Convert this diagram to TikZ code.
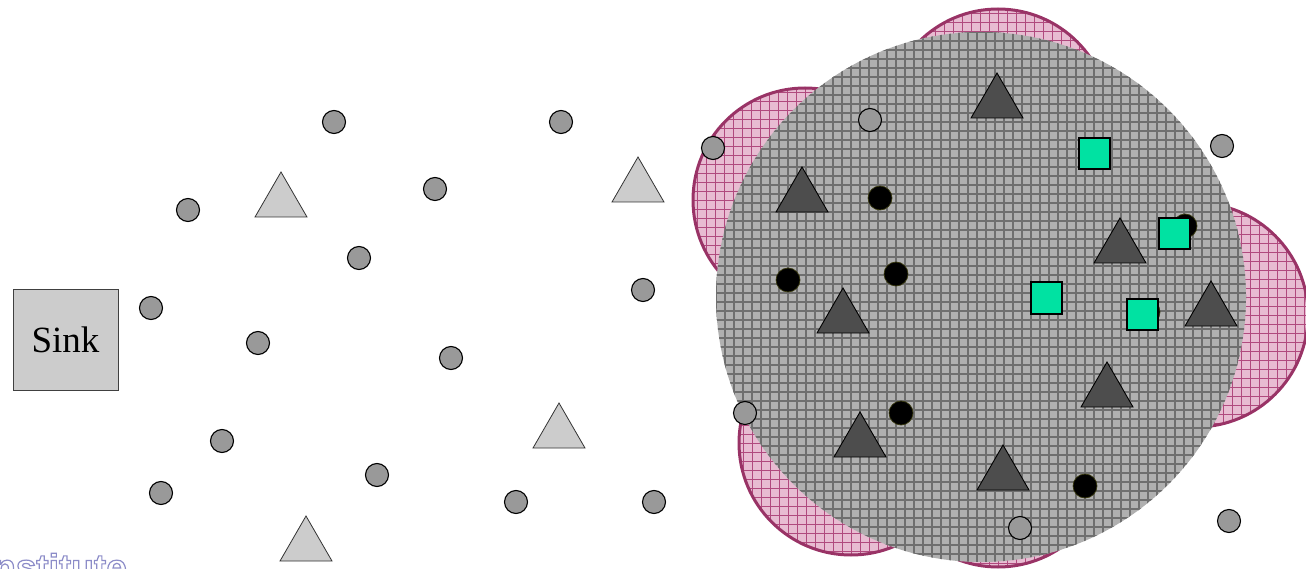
\documentclass[tikz,border=0pt]{standalone}
\usepackage{fontspec}
\setmainfont{Liberation Serif}
\newfontfamily\wmfont{Liberation Sans}
\usetikzlibrary{shapes.geometric}
\definecolor{pinkfill}{HTML}{E8BCD2}
\definecolor{pinkline}{HTML}{B04A7E}
\definecolor{pinkedge}{HTML}{993366}
\definecolor{cellgray}{HTML}{B0B0B0}
\definecolor{gridgray}{HTML}{6F6F6F}
\definecolor{nodegray}{HTML}{999999}
\definecolor{sinkgray}{HTML}{CCCCCC}
\definecolor{lighttri}{HTML}{CCCCCC}
\definecolor{darktri}{HTML}{4D4D4D}
\definecolor{sensgreen}{HTML}{00E2A2}
\definecolor{olive2}{HTML}{3A3A10}
\definecolor{wmblue}{HTML}{8C8CC8}
\begin{document}
\begin{tikzpicture}[x=1pt,y=-1pt,
  gc/.style={circle,draw=black,fill=nodegray,line width=1.1,minimum size=23,inner sep=0},
  bc/.style={circle,draw=olive2,fill=black,line width=0.7,minimum size=24,inner sep=0},
  ltri/.style={regular polygon,regular polygon sides=3,draw=black!80,fill=lighttri,line width=0.8,minimum size=60,inner sep=0},
  dtri/.style={regular polygon,regular polygon sides=3,draw=black,fill=darktri,line width=0.9,minimum size=60,inner sep=0},
  gsq/.style={rectangle,draw=black,fill=sensgreen,line width=2,minimum size=31,inner sep=0},
  sinkbox/.style={rectangle,draw=black!75,fill=sinkgray,line width=0.8,minimum width=105,minimum height=101,inner sep=0,font=\fontsize{37}{40}\selectfont},
  pinkgrid/.style={pinkline,line width=0.5},
  pinkborder/.style={pinkedge,line width=3},
  graygrid/.style={gridgray,line width=2.4}]
\useasboundingbox (0,0) rectangle (1306,569);
\clip (0,0) rectangle (1306,569);
% pink coverage circles
\foreach \cx/\cy in {805/200, 998/121, 1196/315, 851/443, 998/455} {
  \fill[pinkfill] (\cx,\cy) circle[radius=112];
  \begin{scope}
    \clip (\cx,\cy) circle[radius=112];
    \foreach \k in {-13,...,13} {
      \draw[pinkgrid] (\cx+\k*9,\cy-115) -- (\cx+\k*9,\cy+115);
      \draw[pinkgrid] (\cx-115,\cy+\k*9) -- (\cx+115,\cy+\k*9);
    }
  \end{scope}
  \draw[pinkborder] (\cx,\cy) circle[radius=112];
}
% big grey region
\begin{scope}
  \clip (981,297) circle[radius=265];
  \fill[cellgray] (714,30) rectangle (1248,564);
  \foreach \k in {0,...,60} {
    \draw[graygrid] (716+\k*9,28) -- (716+\k*9,566);
    \draw[graygrid] (712,32+\k*9) -- (1250,32+\k*9);
  }
\end{scope}
% sink
\node[sinkbox] (sink) at (65.5,339.5) {Sink};
% light triangles
\node[ltri] (l1) at (281,202) {};
\node[ltri] (l2) at (638,187) {};
\node[ltri] (l3) at (559,433) {};
\node[ltri] (l4) at (306,546) {};
% dark triangles
\node[dtri] (d1) at (997,103) {};
\node[dtri] (d2) at (802,197) {};
\node[dtri] (d3) at (1120,248) {};
\node[dtri] (d4) at (1211,311) {};
\node[dtri] (d5) at (843,318) {};
\node[dtri] (d6) at (1107,392) {};
\node[dtri] (d7) at (860,442) {};
\node[dtri] (d8) at (1003,475) {};
% black nodes
\node[bc] (b1) at (880,198) {};
\node[bc] (b2) at (788,280) {};
\node[bc] (b3) at (896,274) {};
\node[bc] (b4) at (901,413) {};
\node[bc] (b5) at (1085,486) {};
\node[bc] (b6) at (1185,226) {};
\node[bc] (b7) at (1148,312) {};
% green squares
\node[gsq] (s1) at (1094,154) {};
\node[gsq] (s2) at (1174,234) {};
\node[gsq] (s3) at (1046,298) {};
\node[gsq] (s4) at (1142,314) {};
% grey nodes
\node[gc] (g1) at (334,122) {};
\node[gc] (g2) at (561,122) {};
\node[gc] (g3) at (188,210) {};
\node[gc] (g4) at (435,189) {};
\node[gc] (g5) at (359,258) {};
\node[gc] (g6) at (151,308) {};
\node[gc] (g7) at (643,290) {};
\node[gc] (g8) at (258,343) {};
\node[gc] (g9) at (451,358) {};
\node[gc] (g10) at (222,441) {};
\node[gc] (g11) at (377,475) {};
\node[gc] (g12) at (161,493) {};
\node[gc] (g13) at (516,502) {};
\node[gc] (g14) at (654,502) {};
\node[gc] (g15) at (713,148) {};
\node[gc] (g16) at (870,120) {};
\node[gc] (g17) at (1222,146) {};
\node[gc] (g18) at (745,413) {};
\node[gc] (g19) at (1020,528) {};
\node[gc] (g20) at (1229,521) {};
% watermark fragment (cut off by the lower edge, as in the reference)
\node[anchor=base west,inner sep=0,text=wmblue,font=\wmfont\bfseries\fontsize{37}{40}\selectfont] (wm) at (-7,580) {\special{pdf:literal direct 1 Tr 1.2 w}nstitute};
\end{tikzpicture}
\end{document}
